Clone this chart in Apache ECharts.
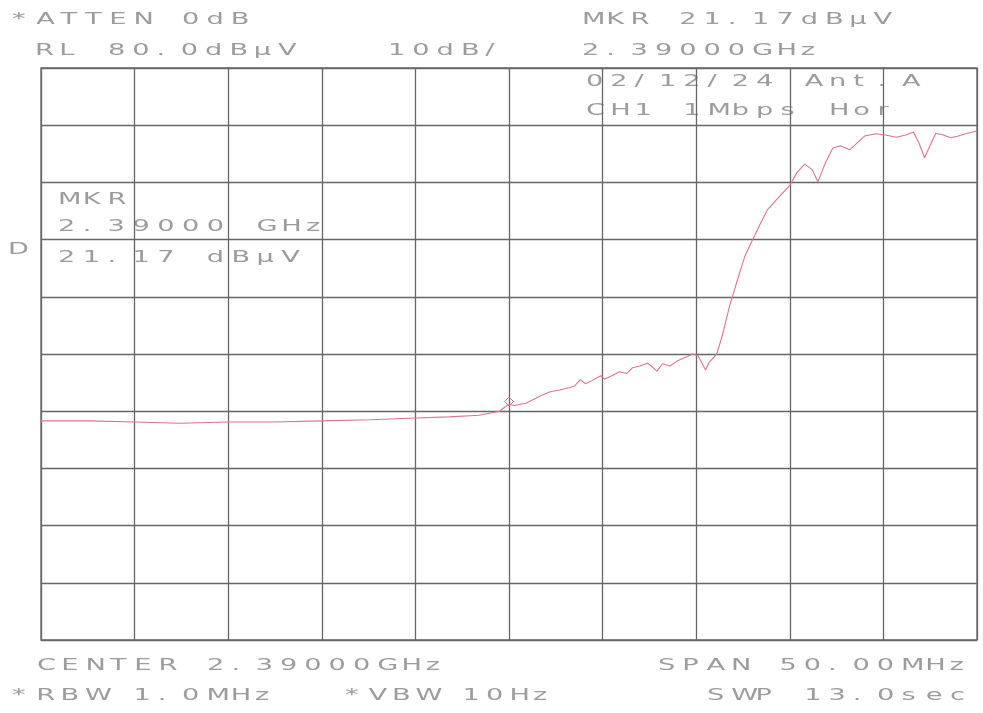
<!DOCTYPE html>
<html>
<head>
<meta charset="utf-8">
<script src="https://cdn.jsdelivr.net/npm/echarts@6/dist/echarts.min.js"></script>
<style>
  html, body { margin: 0; padding: 0; background: #fff; }
  #chart { width: 983px; height: 713px; }
</style>
</head>
<body>
<div id="chart"></div>
<script>
// trace: frequency in MHz, level in dBuV
const freqMHz = [
    2365.0, 2367.5, 2370.0, 2372.4, 2375.0, 2377.5, 2380.0, 2382.6, 2385.0, 2386.8,
    2388.4, 2389.5, 2389.8, 2390.0, 2390.3, 2390.9, 2391.7, 2392.2, 2392.7, 2393.2,
    2393.5, 2393.8, 2394.1, 2394.4, 2394.9, 2395.1, 2395.5, 2395.9, 2396.3, 2396.6,
    2397.0, 2397.4, 2397.6, 2397.9, 2398.2, 2398.6, 2399.0, 2399.5, 2399.8, 2400.1,
    2400.5, 2400.7, 2401.1, 2401.4, 2401.8, 2402.2, 2402.6, 2403.0, 2403.4, 2403.8,
    2404.4, 2405.0, 2405.4, 2405.8, 2406.2, 2406.5, 2406.9, 2407.3, 2407.7, 2408.2,
    2408.6, 2409.0, 2409.6, 2410.1, 2410.7, 2411.2, 2411.6, 2411.9, 2412.2, 2412.5,
    2412.8, 2413.2, 2413.6, 2414.0, 2414.4, 2415.0
];
const levelDbuv = [
    18.3, 18.3, 18.1, 17.9, 18.1, 18.1, 18.3, 18.5, 18.8, 19.0,
    19.3, 20.0, 20.8, 21.17, 21.0, 21.4, 22.7, 23.4, 23.7, 24.1,
    24.4, 25.5, 24.8, 25.3, 26.2, 25.6, 26.2, 26.9, 26.6, 27.6,
    27.9, 28.4, 27.9, 27.0, 28.3, 27.9, 28.8, 29.5, 30.0, 29.7,
    27.2, 28.6, 30.0, 33.3, 38.6, 42.9, 47.1, 49.9, 52.6, 55.2,
    57.4, 59.5, 61.8, 63.2, 62.2, 60.1, 63.4, 66.0, 66.4, 65.7,
    66.9, 68.1, 68.5, 68.3, 67.9, 68.3, 68.8, 66.9, 64.3, 66.5,
    68.6, 68.3, 67.8, 68.1, 68.5, 69.0
];
const markerFreq = 2390.0;
const markerLevel = 21.17;

// annotation texts of the analyzer screen
const headerLeft = ["*ATTEN 0dB", "RL 80.0dB\u00b5V"];
const scaleText = "10dB/";
const headerRight = ["MKR 21.17dB\u00b5V", "2.39000GHz", "02/12/24 Ant.A", "CH1 1Mbps Hor"];
const markerBox = ["MKR", "2.39000 GHz", "21.17 dB\u00b5V"];
const footerLeft = ["CENTER 2.39000GHz", "*RBW 1.0MHz"];
const footerMid = "*VBW 10Hz";
const footerRight = ["SPAN 50.00MHz", "SWP 13.0sec"];

const textColor = "#9c9c9c";

// plotter style lettering: one glyph per fixed-pitch cell
function lettering(str, x, y, pitch) {
    const out = [];
    for (let i = 0; i < str.length; i++) {
        const ch = str[i];
        if (ch === " ") continue;
        out.push({
            type: "text",
            x: x + i * pitch,
            y: y,
            scaleX: 1.7,
            silent: true,
            style: {
                text: ch,
                fill: textColor,
                font: "16px 'DejaVu Sans'",
                textAlign: "left",
                textVerticalAlign: "top"
            }
        });
    }
    return out;
}

const pitch = 24.3;
let graphics = [];
graphics = graphics.concat(lettering(headerLeft[0], 12, 12, pitch));
graphics = graphics.concat(lettering(headerLeft[1], 35, 43, pitch));
graphics = graphics.concat(lettering(scaleText, 388, 43, pitch));
graphics = graphics.concat(lettering(headerRight[0], 582, 12, pitch));
graphics = graphics.concat(lettering(headerRight[1], 582, 43, pitch));
graphics = graphics.concat(lettering(headerRight[2], 586, 74, pitch));
graphics = graphics.concat(lettering(headerRight[3], 586, 103, pitch));
graphics = graphics.concat(lettering(markerBox[0], 58, 192, 24.8));
graphics = graphics.concat(lettering(markerBox[1], 58, 219, 24.8));
graphics = graphics.concat(lettering(markerBox[2], 58, 250, 24.8));
graphics = graphics.concat(lettering("D", 8, 242, pitch));
graphics = graphics.concat(lettering(footerLeft[0], 37, 658, pitch));
graphics = graphics.concat(lettering(footerLeft[1], 12, 688, pitch));
graphics = graphics.concat(lettering(footerMid, 345, 688, 23.5));
graphics = graphics.concat(lettering(footerRight[0], 658, 658, pitch));
graphics = graphics.concat(lettering(footerRight[1], 707, 688, pitch));

const chart = echarts.init(document.getElementById("chart"));
const traceData = freqMHz.map((f, i) => [f, levelDbuv[i]]);

chart.setOption({
    animation: false,
    backgroundColor: "#ffffff",
    grid: {
        left: 41,
        right: 6,
        top: 68,
        bottom: 73,
        show: true,
        borderColor: "#666",
        borderWidth: 1.3,
        backgroundColor: "transparent"
    },
    xAxis: {
        type: "value",
        min: 2365,
        max: 2415,
        interval: 5,
        axisLine: { show: false },
        axisTick: { show: false },
        axisLabel: { show: false },
        splitLine: { lineStyle: { color: "#666", width: 1.3 } }
    },
    yAxis: {
        type: "value",
        min: -20,
        max: 80,
        interval: 10,
        axisLine: { show: false },
        axisTick: { show: false },
        axisLabel: { show: false },
        splitLine: { lineStyle: { color: "#666", width: 1.3 } }
    },
    series: [
        {
            type: "line",
            data: traceData,
            showSymbol: false,
            lineStyle: { color: "#d9768a", width: 1.1 },
            markPoint: {
                symbol: "diamond",
                symbolSize: 9,
                symbolOffset: [0, -3],
                itemStyle: { color: "transparent", borderColor: "#d9768a", borderWidth: 1 },
                label: { show: false },
                data: [{ coord: [markerFreq, markerLevel] }]
            }
        }
    ],
    graphic: graphics
});
</script>
</body>
</html>
